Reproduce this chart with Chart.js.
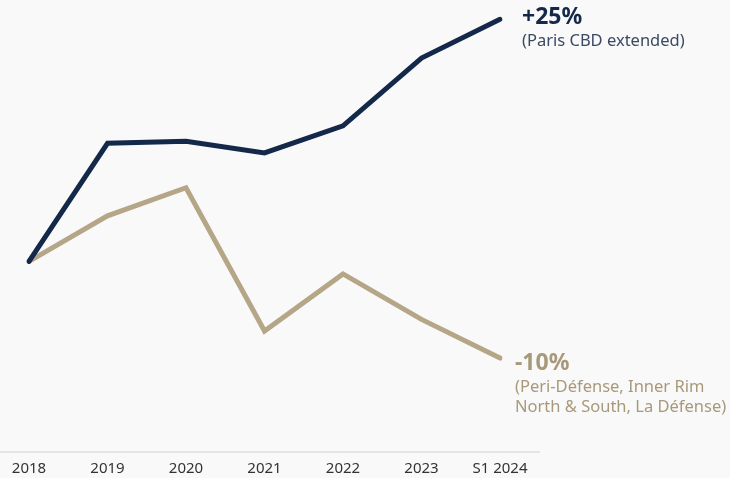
<!DOCTYPE html>
<html>
<head>
<meta charset="utf-8">
<script src="https://cdn.jsdelivr.net/npm/chart.js@4.4.1/dist/chart.umd.min.js"></script>
<style>
  html, body { margin: 0; padding: 0; background: #f9f9f9; }
  #wrap { width: 730px; height: 478px; position: relative; }
</style>
</head>
<body>
<div id="wrap"><canvas id="rents"></canvas></div>
<script>
// index, 2018 = 100
const years = ["2018", "2019", "2020", "2021", "2022", "2023", "S1 2024"];
const cbdValues = [100, 112.2, 112.4, 111.2, 114.0, 121.0, 125];
const periValues = [100, 104.7, 107.6, 92.8, 98.7, 94.0, 90];

const navy = "#14294a";
const tan = "#b5a688";
const font = "'Noto Sans', 'Open Sans', sans-serif";

const endLabels = [
  { dataset: 0, dx: 22, dy: -2, subDy: 22, title: "+25%", lines: ["(Paris CBD extended)"], color: navy, sub: "#3a4a63" },
  { dataset: 1, dx: 15, dy: 5, subDy: 29, title: "-10%", lines: ["(Peri-Défense, Inner Rim", "North & South, La Défense)"], color: "#a8997a", sub: "#a8997a" },
];

// baseline under the plot and labels at the end of each line
const decorations = {
  id: "decorations",
  beforeDatasetsDraw(chart) {
    const { ctx, scales } = chart;
    const y = scales.y.getPixelForValue(scales.y.min);
    ctx.save();
    ctx.strokeStyle = "#dedede";
    ctx.lineWidth = 1.5;
    ctx.beginPath();
    ctx.moveTo(0, y);
    ctx.lineTo(540, y);
    ctx.stroke();
    ctx.restore();
  },
  afterDatasetsDraw(chart) {
    const { ctx } = chart;
    ctx.save();
    endLabels.forEach((lab) => {
      const meta = chart.getDatasetMeta(lab.dataset);
      const pt = meta.data[meta.data.length - 1];
      const x = pt.x + lab.dx;
      ctx.textBaseline = "middle";
      ctx.textAlign = "left";
      ctx.fillStyle = lab.color;
      ctx.font = "bold 23px " + font;
      ctx.fillText(lab.title, x, pt.y + lab.dy);
      ctx.fillStyle = lab.sub;
      ctx.font = "16.5px " + font;
      lab.lines.forEach((line, i) => {
        ctx.fillText(line, x, pt.y + lab.subDy + i * 20);
      });
    });
    ctx.restore();
  },
};

new Chart("rents", {
  type: "line",
  plugins: [decorations],
  data: {
    labels: years,
    datasets: [
      {
        data: cbdValues,
        borderColor: navy,
        borderWidth: 5,
        pointRadius: 0,
        borderCapStyle: "round",
        tension: 0,
      },
      {
        data: periValues,
        borderColor: tan,
        borderWidth: 5,
        pointRadius: 0,
        borderCapStyle: "round",
        tension: 0,
      },
    ],
  },
  options: {
    responsive: true,
    maintainAspectRatio: false,
    animation: false,
    layout: { padding: { left: 29, right: 230, top: 0, bottom: -8 } },
    plugins: { legend: { display: false }, tooltip: { enabled: false } },
    elements: { line: { clip: false } },
    scales: {
      x: {
        grid: { display: false, drawTicks: false },
        border: { display: false },
        ticks: {
          color: "#333333",
          font: { family: font, size: 15 },
          padding: 8,
          maxRotation: 0,
        },
      },
      y: {
        display: false,
        min: 80.3,
        max: 127,
      },
    },
  },
});
</script>
</body>
</html>
